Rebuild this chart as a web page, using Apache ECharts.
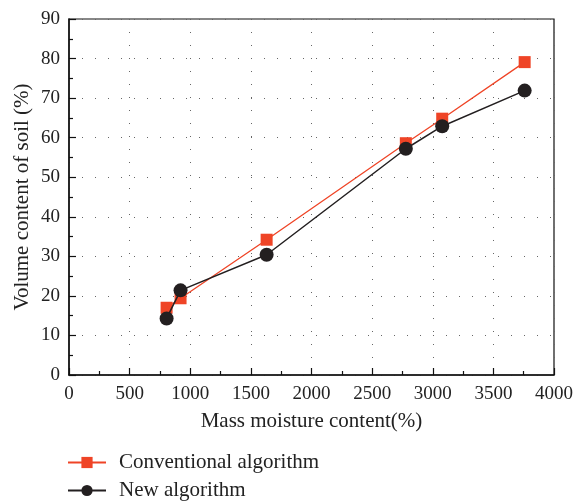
<!DOCTYPE html>
<html>
<head>
<meta charset="utf-8">
<script src="https://cdn.jsdelivr.net/npm/echarts@6/dist/echarts.min.js"></script>
<style>
  html, body { margin: 0; padding: 0; background: #fff; }
  #chart { width: 576px; height: 501px; }
</style>
</head>
<body>
<div id="chart"></div>
<script>
var massMoisture = [805, 920, 1630, 2778, 3078, 3758]
var conventional = [17.0, 19.4, 34.2, 58.6, 64.8, 79.1]
var newAlgorithm = [14.3, 21.4, 30.4, 57.2, 62.9, 71.9]

var serif = 'Liberation Serif'
var chart = echarts.init(document.getElementById('chart'))

function pairs(xs, ys) {
	return xs.map(function (x, i) { return [x, ys[i]] })
}

var gridLine = { show: true, lineStyle: { color: '#666', width: 1, type: [1, 12] } }
var legendText = { fontFamily: serif, fontSize: 21, color: '#222', padding: [0, 0, 0, 8] }

var options = {
	animation: false,
	textStyle: { fontFamily: serif },
	grid: {
		left: 69, right: 21, top: 19, bottom: 126,
		show: true, borderColor: '#111', borderWidth: 1.2, backgroundColor: 'transparent'
	},
	legend: [
		{
			left: 67, top: 452, padding: 0,
			itemWidth: 38, itemHeight: 14,
			textStyle: legendText,
			data: ['Conventional algorithm']
		},
		{
			left: 67, top: 480, padding: 0,
			itemWidth: 38, itemHeight: 14,
			textStyle: legendText,
			data: ['New algorithm']
		}
	],
	xAxis: {
		type: 'value',
		min: 0, max: 4000, interval: 500,
		name: 'Mass moisture content(%)',
		nameLocation: 'middle',
		nameGap: 36,
		nameMoveOverlap: false,
		nameTextStyle: { fontFamily: serif, fontSize: 21, color: '#222' },
		axisLine: { lineStyle: { color: '#111', width: 1.5 } },
		axisTick: { inside: true, length: 7, lineStyle: { color: '#111', width: 1.2 } },
		minorTick: { show: true, splitNumber: 2, length: 4, lineStyle: { color: '#111', width: 1.2 } },
		axisLabel: { fontFamily: serif, fontSize: 19, color: '#222', margin: 10, formatter: function (v) { return String(v) } },
		splitLine: gridLine
	},
	yAxis: {
		type: 'value',
		min: 0, max: 90, interval: 10,
		name: 'Volume content of soil (%)',
		nameLocation: 'middle',
		nameGap: 36,
		nameMoveOverlap: false,
		nameTextStyle: { fontFamily: serif, fontSize: 21, color: '#222' },
		axisLine: { show: true, lineStyle: { color: '#111', width: 1.5 } },
		axisTick: { show: true, inside: true, length: 7, lineStyle: { color: '#111', width: 1.2 } },
		minorTick: { show: true, splitNumber: 2, length: 4, lineStyle: { color: '#111', width: 1.2 } },
		axisLabel: { fontFamily: serif, fontSize: 19, color: '#222', margin: 9 },
		splitLine: gridLine
	},
	series: [
		{
			name: 'Conventional algorithm',
			type: 'line',
			data: pairs(massMoisture, conventional),
			symbol: 'rect',
			symbolSize: 12,
			color: '#ef4426',
			lineStyle: { color: '#ef4426', width: 1.3 },
			itemStyle: { color: '#ef4426' },
			z: 2
		},
		{
			name: 'New algorithm',
			type: 'line',
			data: pairs(massMoisture, newAlgorithm),
			symbol: 'circle',
			symbolSize: 14,
			color: '#231f20',
			lineStyle: { color: '#231f20', width: 1.5 },
			itemStyle: { color: '#231f20' },
			z: 3
		}
	]
}
chart.setOption(options)
</script>
</body>
</html>
